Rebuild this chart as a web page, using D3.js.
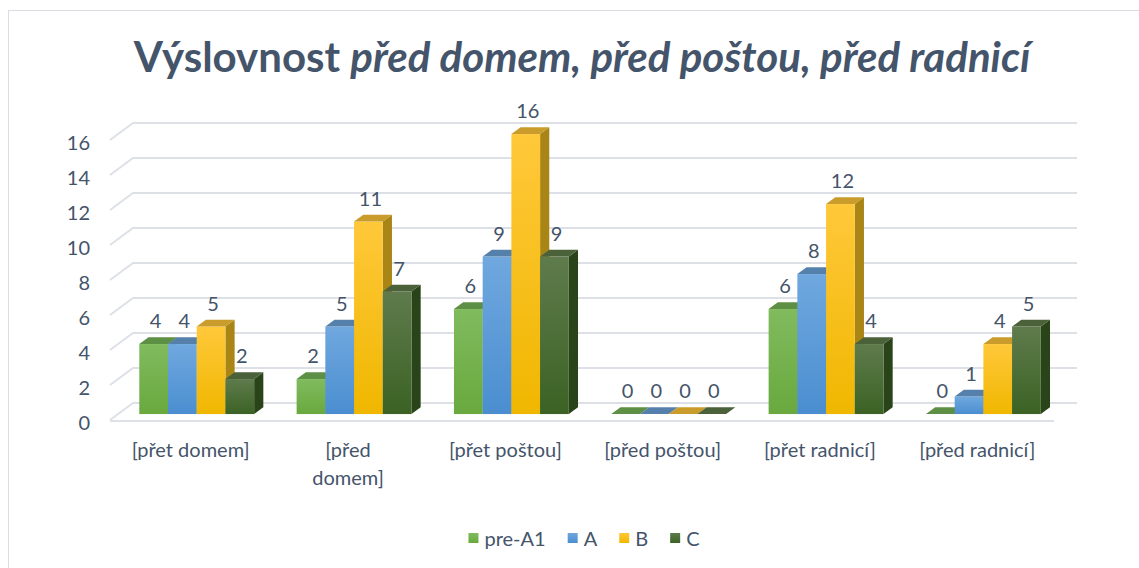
<!DOCTYPE html>
<html>
<head>
<meta charset="utf-8">
<script src="https://cdn.jsdelivr.net/npm/d3@7"></script>
<style>
  body { margin: 0; background: #fff; }
  svg { display: block; font-family: Lato, "Open Sans", sans-serif; }
</style>
</head>
<body>
<div class="chart-container"></div>
<script>
// 3d style clustered columns, excel look

const categories = ['[přet domem]', '[před domem]', '[přet poštou]', '[před poštou]', '[přet radnicí]', '[před radnicí]'];
const category_lines = { '[před domem]': ['[před', 'domem]'] };
const series_names = ['pre-A1', 'A', 'B', 'C'];
const values_preA1 = [4, 2, 6, 0, 6, 0];
const values_A = [4, 5, 9, 0, 8, 1];
const values_B = [5, 11, 16, 0, 12, 4];
const values_C = [2, 7, 9, 0, 4, 5];
const y_ticks = [0, 2, 4, 6, 8, 10, 12, 14, 16];

const series_colors = {
   'pre-A1': { light: '#80bb5e', base: '#69a93e', top: '#5d8f44', side: '#4d7a32' },
   'A': { light: '#70a8df', base: '#4a8ed0', top: '#5580ab', side: '#3b6c9c' },
   'B': { light: '#ffc83a', base: '#f0b700', top: '#c99c2c', side: '#a98515' },
   'C': { light: '#5f7b4c', base: '#3b6224', top: '#4a6139', side: '#2a4419' },
};
const text_color = '#44546a';
const grid_color = '#dde1e7';

const width = 1139, height = 568;
// floor front edge and depth vector of the 3d box
const floor = { left: 110, right: 1054, y0: 420 };
const depth = { dx: 23, dy: -17 };
const bar_front = 0.35, bar_back = 0.75; // fraction of depth used by the bars

const svg = d3.select('.chart-container')
   .append('svg')
   .attr('width', width)
   .attr('height', height);

// outer border of the chart
svg.append('rect')
   .attr('x', 8.5).attr('y', 10.5)
   .attr('width', 1200).attr('height', 700)
   .attr('fill', 'none')
   .attr('stroke', '#d9dde3');

const x_scale = d3.scaleBand()
   .domain(categories)
   .range([floor.left, floor.right])
   .paddingInner(0.27)
   .paddingOuter(0.135);

const x_sub = d3.scaleBand()
   .domain(series_names)
   .range([0, x_scale.bandwidth()]);

const y_scale = d3.scaleLinear()
   .domain([0, 16])
   .range([floor.y0, floor.y0 - 280]);

// move a point back into the box by t (0 = front, 1 = back)
const at_depth = (x, y, t) => [x + depth.dx * t, y + depth.dy * t];

// gradients for the front faces
const defs = svg.append('defs');
series_names.forEach((s, i) => {
   const g = defs.append('linearGradient')
      .attr('id', `grad-${i}`)
      .attr('x1', 0).attr('y1', 0).attr('x2', 0).attr('y2', 1);
   g.append('stop').attr('offset', '0%').attr('stop-color', series_colors[s].light);
   g.append('stop').attr('offset', '100%').attr('stop-color', series_colors[s].base);
});

// gridlines: left wall diagonal + back wall line
const grid = svg.append('g').attr('class', 'grid');
y_ticks.forEach(v => {
   const y = y_scale(v);
   const back = at_depth(floor.left, y, 1);
   grid.append('path')
      .attr('d', `M${floor.left},${y}L${back[0]},${back[1]}L${floor.right + depth.dx},${back[1]}`)
      .attr('fill', 'none')
      .attr('stroke', grid_color)
      .attr('stroke-width', 2);
});
// front edge of the floor
grid.append('line')
   .attr('x1', floor.left).attr('x2', floor.right)
   .attr('y1', floor.y0 + 1).attr('y2', floor.y0 + 1)
   .attr('stroke', grid_color)
   .attr('stroke-width', 2);

// y tick labels
svg.append('g')
   .selectAll('text')
   .data(y_ticks)
   .enter()
   .append('text')
   .attr('x', 90)
   .attr('y', d => y_scale(d) + 2)
   .attr('text-anchor', 'end')
   .attr('dominant-baseline', 'central')
   .style('font-size', '20px')
   .style('fill', text_color)
   .text(d => d);

// bars
const all_values = [values_preA1, values_A, values_B, values_C];
const bars = [];
categories.forEach((c, ci) => {
   series_names.forEach((s, si) => {
      bars.push({ cat: c, series: s, si: si, value: all_values[si][ci] });
   });
});

const bar_group = svg.append('g').attr('class', 'bars');
bars.forEach(d => {
   const x0 = x_scale(d.cat) + x_sub(d.series);
   const w = x_sub.bandwidth();
   const yb = y_scale(0), yt = y_scale(d.value);
   const f = t => (x, y) => at_depth(x, y, t);
   const F = f(bar_front), B = f(bar_back);
   const p = pts => 'M' + pts.map(q => q.join(',')).join('L') + 'Z';
   const g = bar_group.append('g');
   if (d.value > 0) {
      // side face
      g.append('path')
         .attr('d', p([F(x0 + w, yt), B(x0 + w, yt), B(x0 + w, yb), F(x0 + w, yb)]))
         .attr('fill', series_colors[d.series].side);
      // front face
      const a = F(x0, yt), b = F(x0 + w, yb);
      g.append('rect')
         .attr('x', a[0]).attr('y', a[1])
         .attr('width', w).attr('height', b[1] - a[1])
         .attr('fill', `url(#grad-${d.si})`);
   }
   // top face
   g.append('path')
      .attr('d', p([F(x0, yt), F(x0 + w, yt), B(x0 + w, yt), B(x0, yt)]))
      .attr('fill', series_colors[d.series].top);
   // value label
   const lp = F(x0 + w / 2, yt);
   g.append('text')
      .attr('x', lp[0] + 2)
      .attr('y', lp[1] - 16)
      .attr('text-anchor', 'middle')
      .style('font-size', '20px')
      .style('fill', text_color)
      .text(d.value);
});

// category labels
const cat_group = svg.append('g').attr('class', 'categories');
categories.forEach(c => {
   const lines = category_lines[c] || [c];
   const cx = x_scale(c) + x_scale.bandwidth() / 2 + 2;
   const t = cat_group.append('text')
      .attr('x', cx)
      .attr('y', 457)
      .attr('text-anchor', 'middle')
      .style('font-size', '20px')
      .style('fill', text_color);
   lines.forEach((l, i) => {
      t.append('tspan')
         .attr('x', cx)
         .attr('dy', i === 0 ? 0 : 28)
         .text(l);
   });
});

// title
const title = svg.append('text')
   .attr('x', 582)
   .attr('y', 72)
   .attr('text-anchor', 'middle')
   .style('font-size', '42px')
   .style('font-weight', 'bold')
   .style('fill', text_color);
title.append('tspan').text('Výslovnost ');
title.append('tspan').style('font-style', 'italic').text('před domem, před poštou, před radnicí');

// legend, laid out from the text widths and centred
const legend = svg.append('g').attr('class', 'legend');
let lx = 0;
series_names.forEach((s, i) => {
   const item = legend.append('g').attr('transform', `translate(${lx},0)`);
   item.append('rect')
      .attr('x', 0).attr('y', 533)
      .attr('width', 10).attr('height', 10)
      .attr('fill', `url(#grad-${i})`);
   const t = item.append('text')
      .attr('x', 16)
      .attr('y', 538)
      .attr('dominant-baseline', 'central')
      .style('font-size', '20px')
      .style('fill', text_color)
      .text(s);
   lx += 16 + t.node().getComputedTextLength() + 22;
});
const legend_w = lx - 22;
legend.attr('transform', `translate(${584 - legend_w / 2},0)`);
</script>
</body>
</html>
